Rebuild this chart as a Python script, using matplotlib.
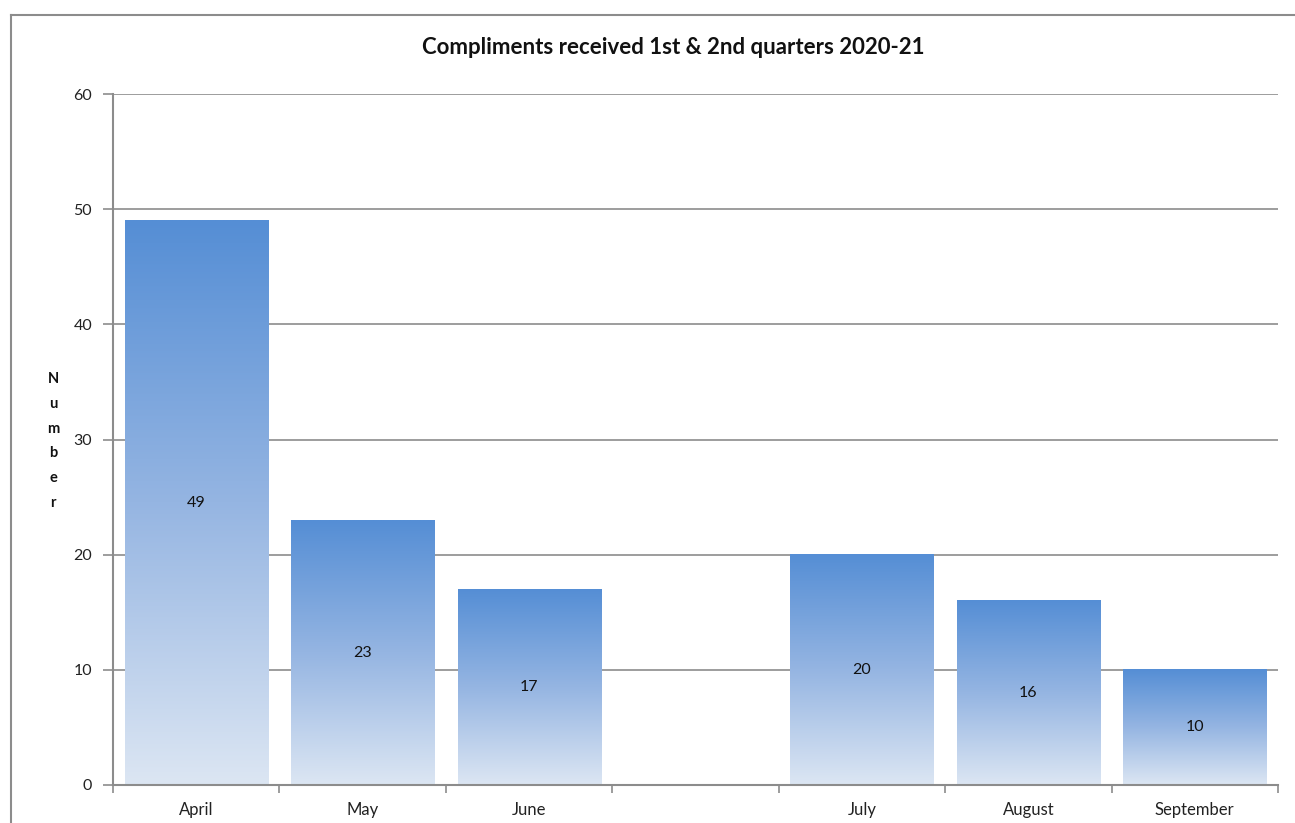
import matplotlib
matplotlib.use("Agg")
import matplotlib.pyplot as plt
import numpy as np
from matplotlib.colors import LinearSegmentedColormap
from matplotlib.lines import Line2D

months = ["April", "May", "June", "", "July", "August", "September"]
values = [49, 23, 17, None, 20, 16, 10]
yticks = [0, 10, 20, 30, 40, 50, 60]
title = "Compliments received 1st & 2nd quarters 2020-21"

plt.rcParams['font.family'] = ['Lato', 'DejaVu Sans']

fig = plt.figure(figsize=(12.95, 8.23), dpi=100)
fig.patch.set_facecolor("white")

# outer frame (left + top visible)
fig.add_artist(Line2D([11/1295, 11/1295], [0, 1 - 15/823], transform=fig.transFigure, color="#8c8c8c", lw=1.5))
fig.add_artist(Line2D([11/1295, 1], [1 - 15/823, 1 - 15/823], transform=fig.transFigure, color="#8c8c8c", lw=1.5))

ax = fig.add_axes([113/1295, 38/823, 1165/1295, 691/823])

cmap = LinearSegmentedColormap.from_list("g", ["#DCE6F3", "#95B5E2", "#558ED5"])
grad = np.linspace(0, 1, 256).reshape(-1, 1)
width = 0.86
for i, v in enumerate(values):
    if v is None:
        continue
    ax.imshow(grad, cmap=cmap, origin="lower", aspect="auto",
              extent=(i - width/2, i + width/2, 0, v), zorder=2, interpolation="bilinear")
    ax.text(i, v/2, str(v), ha="center", va="center", fontsize=11.5, color="#111111", zorder=3)

ax.set_xlim(-0.5, len(months) - 0.5)
ax.set_ylim(0, 60)

for y in yticks[1:]:
    ax.axhline(y, color="#8c8c8c", lw=1.2, zorder=1)

ax.set_yticks(yticks)
ax.set_yticklabels([str(t) for t in yticks], fontsize=11.5, color="#222222")
ax.tick_params(axis="y", length=7, width=1.2, color="#8c8c8c", pad=8)

ax.set_xticks(range(len(months)))
ax.set_xticklabels(months, fontsize=12, color="#222222")
ax.tick_params(axis="x", which="major", length=0, pad=12)
ax.set_xticks(np.arange(-0.5, len(months), 1), minor=True)
ax.tick_params(axis="x", which="minor", length=6, width=1.2, color="#8c8c8c")

for s in ["top", "right"]:
    ax.spines[s].set_visible(False)
for s in ["left", "bottom"]:
    ax.spines[s].set_color("#8c8c8c")
    ax.spines[s].set_linewidth(1.5)

fig.text(673/1295, 1 - 48/823, title, ha="center", va="center", fontsize=16, fontweight="bold", color="#111111")
fig.text(53/1295, 1 - 441/823, "N\nu\nm\nb\ne\nr", ha="center", va="center", fontsize=10.5,
         fontweight="bold", color="#111111", linespacing=1.97)

fig.savefig("out.png", dpi=100, facecolor="white")
